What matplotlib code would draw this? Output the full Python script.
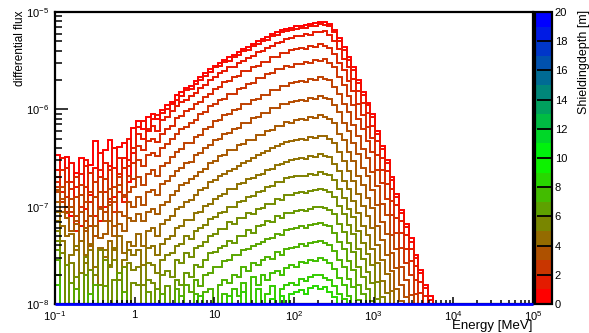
import numpy as np
import matplotlib
matplotlib.use('Agg')
import matplotlib.pyplot as plt
from matplotlib.colors import LinearSegmentedColormap, Normalize
from matplotlib.cm import ScalarMappable
from matplotlib.ticker import LogLocator, NullFormatter

plt.rcParams['font.family'] = ['Liberation Sans', 'DejaVu Sans']
plt.rcParams['mathtext.default'] = 'regular'

# Inputs
# ------------------------------------------------------------------------------------------
n_bins = 100
e_min, e_max = 0.1, 1e5
flux_min, flux_max = 1e-8, 1e-5
depth_max = 20

x_ticks = [1e-1, 1, 10, 1e2, 1e3, 1e4, 1e5]
x_tick_labels = ['$10^{-1}$', '1', '10', '$10^{2}$', '$10^{3}$', '$10^{4}$', '$10^{5}$']
y_ticks = [1e-8, 1e-7, 1e-6, 1e-5]
y_tick_labels = ['$10^{-8}$', '$10^{-7}$', '$10^{-6}$', '$10^{-5}$']
cbar_ticks = list(range(0, 21, 2))

depths = [0.0, 0.5, 1.0, 1.5, 2.0, 2.5, 3.0, 3.5, 4.0, 4.5, 5.0, 5.5, 6.0, 6.5, 7.0, 7.5, 8.0, 8.5]

# log10(differential flux) per energy bin (bin 0 starts at 0.1 MeV), None = empty bin
flux_d00 = [-6.47, -6.95, -6.49, -7.10, -6.65, -6.50, -7.02, -6.57, -6.33, -7.15, -6.42, -6.31, -6.90, -6.39, -6.35, -6.75, -6.19,
            -6.12, -6.20, -6.08, -6.05, -6.10, -6.01, -5.96, -5.92, -5.85, -5.82, -5.78, -5.76, -5.71, -5.67, -5.63, -5.59, -5.55,
            -5.52, -5.49, -5.46, -5.44, -5.41, -5.38, -5.36, -5.33, -5.30, -5.28, -5.26, -5.23, -5.21, -5.19, -5.17, -5.16, -5.14,
            -5.14, -5.13, -5.12, -5.11, -5.10, -5.10, -5.12,
            -5.18, -5.27, -5.36, -5.46, -5.57, -5.70, -5.82, -5.93, -6.05, -6.22, -6.38, -6.52, -6.70, -6.87, -7.03, -7.18, -7.32,
            -7.50, -7.65, -7.80, -7.92]
flux_d05 = [-6.62, -6.50, -7.05, -6.55, -6.80, -7.20, -6.52, -6.88, -6.60, -6.45, -7.00, -6.58, -6.40, -6.85, -6.50, -6.30, -6.45,
            -6.18, -6.12, -6.22, -6.10, -6.06, -6.04, -6.00, -5.95, -5.90, -5.86, -5.80, -5.79, -5.74, -5.70, -5.66, -5.62, -5.57,
            -5.55, -5.51, -5.50, -5.46, -5.44, -5.40, -5.39, -5.35, -5.33, -5.30, -5.29, -5.25, -5.24, -5.21, -5.20, -5.18, -5.17,
            -5.16, -5.16, -5.14, -5.14, -5.12, -5.13, -5.14,
            -5.21, -5.30, -5.39, -5.49, -5.60, -5.73, -5.85, -5.96, -6.08, -6.25, -6.41, -6.55, -6.73, -6.90, -7.06, -7.21, -7.36,
            -7.53, -7.68, -7.84, -7.96]
flux_d10 = [-6.70, -6.85, -6.60, -6.75, -7.25, -6.66, -6.58, -6.95, -7.10, -6.62, -6.55, -6.92, -6.60, -6.50, -6.95, -6.52, -6.40,
            -6.25, -6.30, -6.20, -6.17, -6.22, -6.11, -6.08, -6.02, -5.97, -5.92, -5.90, -5.86, -5.83, -5.78, -5.75, -5.70, -5.67,
            -5.63, -5.61, -5.57, -5.56, -5.52, -5.50, -5.47, -5.45, -5.41, -5.40, -5.37, -5.35, -5.32, -5.31, -5.28, -5.27, -5.25,
            -5.25, -5.23, -5.24, -5.21, -5.21, -5.20, -5.24,
            -5.30, -5.38, -5.48, -5.57, -5.69, -5.81, -5.94, -6.04, -6.17, -6.33, -6.50, -6.63, -6.82, -6.98, -7.15, -7.29, -7.44,
            -7.61, -7.77, -7.92]
flux_d15 = [-6.75, -6.62, -6.90, -6.82, -6.70, -7.00, -6.80, -6.65, -7.30, -6.70, -6.85, -6.62, -7.05, -6.66, -6.60, -6.58, -6.55,
            -6.38, -6.42, -6.33, -6.30, -6.34, -6.25, -6.20, -6.17, -6.09, -6.07, -6.02, -6.00, -5.95, -5.92, -5.87, -5.84, -5.79,
            -5.77, -5.72, -5.71, -5.67, -5.66, -5.61, -5.61, -5.56, -5.55, -5.51, -5.51, -5.46, -5.46, -5.42, -5.42, -5.39, -5.38,
            -5.37, -5.38, -5.35, -5.36, -5.33, -5.35, -5.37,
            -5.43, -5.52, -5.60, -5.71, -5.81, -5.95, -6.06, -6.18, -6.29, -6.47, -6.62, -6.77, -6.94, -7.12, -7.27, -7.43, -7.56,
            -7.75, -7.89]
flux_d20 = [-6.80, -6.95, -6.75, -7.05, -6.90, -6.78, -7.15, -6.85, -6.75, -7.00, -6.72, -6.95, -6.80, -6.70, -6.88, -6.68, -6.72,
            -6.52, -6.58, -6.47, -6.45, -6.48, -6.40, -6.36, -6.30, -6.25, -6.20, -6.18, -6.14, -6.11, -6.05, -6.03, -5.97, -5.95,
            -5.90, -5.89, -5.84, -5.84, -5.79, -5.78, -5.74, -5.73, -5.68, -5.68, -5.64, -5.63, -5.59, -5.59, -5.55, -5.56, -5.53,
            -5.53, -5.51, -5.52, -5.49, -5.50, -5.48, -5.52,
            -5.57, -5.67, -5.75, -5.86, -5.96, -6.10, -6.20, -6.33, -6.44, -6.62, -6.76, -6.92, -7.09, -7.27, -7.42, -7.58, -7.70,
            -7.90]
flux_d25 = [-6.85, -6.80, -7.00, -6.92, -7.10, -6.88, -6.95, -7.20, -6.90, -6.85, -7.05, -6.82, -6.95, -6.78, -6.90, -6.85, -6.80,
            -6.70, -6.78, -6.66, -6.62, -6.68, -6.58, -6.55, -6.49, -6.44, -6.41, -6.35, -6.35, -6.28, -6.26, -6.20, -6.18, -6.12,
            -6.11, -6.06, -6.05, -6.01, -6.00, -5.95, -5.95, -5.90, -5.89, -5.85, -5.85, -5.80, -5.80, -5.76, -5.76, -5.73, -5.72,
            -5.71, -5.72, -5.69, -5.70, -5.67, -5.69, -5.70,
            -5.77, -5.84, -5.95, -6.03, -6.16, -6.27, -6.41, -6.50, -6.64, -6.79, -6.97, -7.09, -7.29, -7.44, -7.62, -7.75, -7.91]
flux_d30 = [-6.83, -6.92, -7.07, -7.00, -7.15, -7.05, -7.25, -7.10, -7.30, -7.02, -7.15, -6.98, -7.20, -7.05, -7.10, -6.95, -7.00,
            -6.90, -6.98, -6.85, -6.83, -6.88, -6.77, -6.74, -6.69, -6.63, -6.60, -6.55, -6.54, -6.47, -6.45, -6.40, -6.37, -6.31,
            -6.30, -6.25, -6.24, -6.20, -6.19, -6.14, -6.14, -6.09, -6.08, -6.04, -6.04, -5.99, -5.99, -5.95, -5.95, -5.92, -5.91,
            -5.90, -5.91, -5.88, -5.89, -5.86, -5.88, -5.89,
            -5.96, -6.03, -6.14, -6.22, -6.35, -6.46, -6.60, -6.69, -6.83, -6.98, -7.16, -7.28, -7.48, -7.63, -7.80, -7.93]
flux_d35 = [-6.95, -7.05, -7.12, -7.25, -7.18, -7.35, -7.22, -7.40, -7.20, -7.32, -7.28, -7.15, -7.30, -7.18, -7.25, -7.12, -7.15,
            -7.08, -7.15, -7.05, -7.02, -7.08, -6.98, -6.95, -6.88, -6.84, -6.78, -6.76, -6.72, -6.68, -6.64, -6.61, -6.55, -6.53,
            -6.48, -6.47, -6.42, -6.42, -6.37, -6.36, -6.32, -6.31, -6.26, -6.26, -6.22, -6.21, -6.17, -6.17, -6.13, -6.14, -6.11,
            -6.10, -6.11, -6.08, -6.09, -6.06, -6.08, -6.10,
            -6.14, -6.25, -6.32, -6.44, -6.53, -6.68, -6.78, -6.91, -7.01, -7.20, -7.34, -7.50, -7.66, -7.85, -7.97]
flux_d40 = [-7.05, -7.20, -7.30, -7.28, -7.45, -7.35, -7.50, -7.38, None, -7.42, -7.52, -7.35, -7.45, -7.30, -7.48, -7.36, -7.40,
            -7.28, -7.40, -7.25, -7.22, -7.30, -7.18, -7.14, -7.10, -7.02, -7.00, -6.95, -6.93, -6.88, -6.83, -6.81, -6.75, -6.73,
            -6.69, -6.66, -6.63, -6.61, -6.58, -6.55, -6.53, -6.50, -6.47, -6.45, -6.43, -6.40, -6.38, -6.36, -6.34, -6.33, -6.31,
            -6.30, -6.31, -6.28, -6.29, -6.27, -6.27, -6.30,
            -6.35, -6.44, -6.53, -6.63, -6.74, -6.87, -6.99, -7.10, -7.22, -7.39, -7.55, -7.69, -7.87]
flux_d45 = [-7.15, -7.35, None, -7.50, -7.40, None, -7.58, -7.45, -7.62, None, -7.45, -7.60, -7.42, None, -7.55, -7.45, -7.50,
            -7.45, -7.60, -7.42, -7.40, -7.50, -7.38, -7.33, -7.30, -7.22, -7.20, -7.14, -7.14, -7.07, -7.05, -6.99, -6.97, -6.92,
            -6.89, -6.87, -6.82, -6.82, -6.77, -6.76, -6.72, -6.71, -6.67, -6.66, -6.62, -6.61, -6.57, -6.56, -6.54, -6.52, -6.51,
            -6.50, -6.51, -6.48, -6.49, -6.46, -6.48, -6.49,
            -6.56, -6.63, -6.74, -6.82, -6.94, -7.06, -7.20, -7.29, -7.43, -7.58, -7.76, -7.89]
flux_d50 = [-7.25, -7.48, None, -7.58, None, -7.68, -7.52, None, -7.70, -7.45, None, -7.62, -7.55, -7.75, None, -7.58, -7.65,
            -7.62, -7.80, -7.58, -7.60, -7.68, -7.55, -7.50, -7.48, -7.40, -7.38, -7.30, -7.33, -7.25, -7.22, -7.19, -7.13, -7.11,
            -7.06, -7.05, -7.00, -7.00, -6.95, -6.94, -6.90, -6.89, -6.85, -6.84, -6.80, -6.79, -6.75, -6.75, -6.71, -6.70, -6.69,
            -6.68, -6.69, -6.66, -6.67, -6.64, -6.66, -6.67,
            -6.73, -6.82, -6.91, -7.02, -7.11, -7.25, -7.37, -7.49, -7.60, -7.77, -7.93]
flux_d55 = [-7.35, None, -7.60, None, -7.72, None, None, -7.65, None, -7.80, -7.55, None, -7.75, None, -7.62, None, -7.78,
            -7.80, None, -7.75, -7.78, None, -7.70, -7.66, -7.72, -7.55, -7.58, -7.48, -7.52, -7.42, -7.40, -7.36, -7.30, -7.28,
            -7.23, -7.23, -7.16, -7.18, -7.12, -7.12, -7.06, -7.08, -7.02, -7.01, -6.97, -6.97, -6.92, -6.93, -6.88, -6.88, -6.86,
            -6.85, -6.86, -6.84, -6.83, -6.82, -6.83, -6.85,
            -6.90, -6.99, -7.08, -7.19, -7.28, -7.43, -7.54, -7.67, -7.78, -7.95]
flux_d60 = [-7.45, None, None, -7.78, None, None, -7.70, None, None, None, -7.82, None, None, -7.68, None, None, None,
            None, None, -7.88, None, -7.85, None, -7.82, None, -7.75, -7.80, -7.68, -7.72, -7.60, -7.62, -7.55, -7.48, -7.47,
            -7.42, -7.40, -7.35, -7.37, -7.30, -7.30, -7.24, -7.27, -7.20, -7.19, -7.15, -7.16, -7.10, -7.12, -7.06, -7.06, -7.04,
            -7.03, -7.04, -7.02, -7.00, -7.00, -7.01, -7.03,
            -7.08, -7.18, -7.26, -7.37, -7.47, -7.62, -7.72, -7.85, -7.97]
flux_d65 = [-7.55, None, None, None, -7.85, None, None, None, -7.80, None, None, None, None, None, -7.88, None, None,
            None, None, None, None, None, -7.90, None, None, -7.85, None, -7.80, -7.88, -7.75, -7.82, -7.70, -7.68, -7.62,
            -7.62, -7.56, -7.55, -7.50, -7.50, -7.45, -7.44, -7.40, -7.38, -7.36, -7.33, -7.32, -7.28, -7.29, -7.24, -7.23, -7.22,
            -7.20, -7.22, -7.19, -7.18, -7.17, -7.19, -7.20,
            -7.27, -7.36, -7.44, -7.56, -7.65, -7.80, -7.90]
flux_d70 = [-7.70, None, None, None, None, None, None, -7.90, None, None, None, None, None, None, None, None, None,
            None, None, None, None, None, None, None, None, None, -7.92, None, None, -7.90, None, -7.88, -7.85, None,
            -7.80, -7.75, -7.78, -7.70, -7.72, -7.62, -7.66, -7.58, -7.60, -7.55, -7.52, -7.54, -7.47, -7.50, -7.44, -7.42, -7.41,
            -7.38, -7.40, -7.37, -7.36, -7.35, -7.37, -7.39,
            -7.46, -7.55, -7.62, -7.74, -7.83, -7.96]
flux_d75 = [-7.80, None, None, None, None, None, None, None, None, None, None, None, None, None, None, None, None,
            None, None, None, None, None, None, None, None, None, None, None, None, None, -7.92, None, None, None,
            None, -7.90, None, -7.85, -7.92, -7.78, None, -7.72, -7.80, -7.70, -7.75, -7.68, -7.66, -7.70, -7.63, -7.60, -7.62,
            -7.57, -7.58, -7.55, -7.56, -7.53, -7.55, -7.58,
            -7.64, -7.73, -7.80, -7.92]
flux_d80 = [None, None, None, None, None, None, None, None, None, None, None, None, None, None, None, None, None,
            None, None, None, None, None, None, None, None, None, None, None, None, None, None, None, None, None,
            None, None, -7.92, None, None, -7.88, None, None, -7.85, None, -7.90, -7.82, None, -7.85, -7.80, -7.78, -7.80,
            -7.74, -7.76, -7.72, -7.70, -7.70, -7.73, -7.75,
            -7.82, -7.90, -7.95]
flux_d85 = [None, None, None, None, None, None, None, None, None, None, None, None, None, None, None, None, None,
            None, None, None, None, None, None, None, None, None, None, None, None, None, None, None, None, None,
            None, None, None, None, None, None, None, None, None, None, None, -7.95, None, -7.92, None, -7.90, -7.88,
            -7.86, -7.90, -7.84, -7.82, -7.85, -7.83, -7.88,
            -7.93]

curves = [flux_d00, flux_d05, flux_d10, flux_d15, flux_d20, flux_d25, flux_d30, flux_d35, flux_d40,
          flux_d45, flux_d50, flux_d55, flux_d60, flux_d65, flux_d70, flux_d75, flux_d80, flux_d85]

# Plot
# ------------------------------------------------------------------------------------------
edges = np.logspace(np.log10(e_min), np.log10(e_max), n_bins + 1)
depth_cmap = LinearSegmentedColormap.from_list('shield', ['#ff0000', '#00ff00', '#0000ff'])


def to_flux(logs):
    vals = np.full(n_bins, flux_min)
    for i, v in enumerate(logs):
        if v is not None:
            vals[i] = 10.0 ** v
    return vals


fig = plt.figure(figsize=(5.89, 3.33), dpi=100)
ax = fig.add_axes([55/589, 29/333, 478/589, 292/333])

for d, logs in zip(depths, curves):
    ax.stairs(to_flux(logs), edges, baseline=flux_min, color=depth_cmap(d / depth_max), lw=1.4)

# deeper shielding: no counts at all, histogram lies on the frame
ax.stairs(np.full(n_bins, flux_min), edges, baseline=flux_min, color=depth_cmap(1.0),
          lw=2.0, clip_on=False, zorder=3)

ax.set_xscale('log')
ax.set_yscale('log')
ax.set_xlim(e_min, e_max)
ax.set_ylim(flux_min, flux_max)
ax.set_xticks(x_ticks)
ax.set_xticklabels(x_tick_labels)
ax.set_yticks(y_ticks)
ax.set_yticklabels(y_tick_labels)
ax.xaxis.set_minor_locator(LogLocator(base=10, subs=np.arange(2, 10), numticks=20))
ax.yaxis.set_minor_locator(LogLocator(base=10, subs=np.arange(2, 10), numticks=20))
ax.xaxis.set_minor_formatter(NullFormatter())
ax.yaxis.set_minor_formatter(NullFormatter())
ax.tick_params(which='both', direction='in', top=False, right=False, labelsize=8)
ax.tick_params(axis='y', which='major', length=9.5, width=1.1, pad=4)
ax.tick_params(axis='y', which='minor', length=5, width=1.1)
ax.tick_params(axis='x', which='major', length=5, width=1.1, pad=4)
ax.tick_params(axis='x', which='minor', length=3, width=1.1)
for s in ax.spines.values():
    s.set_linewidth(1.6)

fig.text(20/589, 1 - 11/333, 'differential flux', rotation=90, ha='center', va='top', fontsize=8.5)
fig.text(533/589, 1/333, 'Energy [MeV]', ha='right', va='bottom', fontsize=9.5)
fig.text(584/589, 1 - 10/333, 'Shieldingdepth [m]', rotation=90, ha='center', va='top', fontsize=9)

cax = fig.add_axes([535/589, 29/333, 17/589, 292/333])
sm = ScalarMappable(norm=Normalize(0, depth_max), cmap=depth_cmap.resampled(20))
cb = fig.colorbar(sm, cax=cax, ticks=cbar_ticks)
cb.outline.set_linewidth(1.6)
cax.tick_params(direction='in', length=11, width=1.3, labelsize=8, pad=2)

plt.savefig('out.png', dpi=100)
plt.close(fig)
